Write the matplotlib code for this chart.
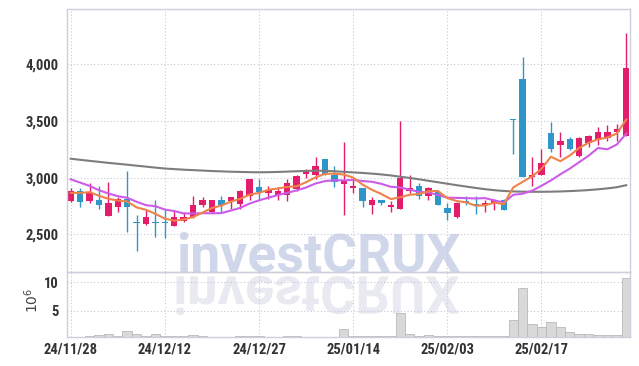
import numpy as np
import matplotlib
matplotlib.use('Agg')
import matplotlib.pyplot as plt
from matplotlib.textpath import TextPath
from matplotlib.patches import PathPatch
from matplotlib.font_manager import FontProperties
from matplotlib.transforms import Affine2D, IdentityTransform

# daily candles, 24/11/28 .. 25/02/28 (60 trading days)
opens = [2790, 2885, 2790, 2800, 2660, 2740, 2810, 2605, 2590, 2605,
         2605, 2570, 2620, 2655, 2755, 2700, 2800, 2790, 2770, 2840,
         2920, 2860, 2845, 2845, 2900, 3030, 3020, 3160, 3020, 2945,
         2905, 2910, 2755, 2805, 2745, 2725, 2885, 2925, 2840, 2875,
         2730, 2650, 2790, 2765, 2755, 2780, 2800, 3520, 3870, 3005,
         3020, 3395, 3285, 3340, 3195, 3305, 3335, 3350, 3405, 3365]
highs = [2905, 2910, 2955, 2930, 2960, 2830, 3060, 2670, 2720, 2800,
         2720, 2710, 2700, 2840, 2825, 2800, 2840, 2825, 2895, 2990,
         2985, 2930, 2920, 2985, 3025, 3075, 3185, 3160, 3105, 3315,
         2975, 2910, 2825, 2805, 2790, 3500, 3020, 2955, 2920, 2880,
         2775, 2785, 2840, 2840, 2800, 2815, 2815, 3520, 4060, 3180,
         3250, 3495, 3405, 3360, 3360, 3375, 3445, 3465, 3475, 4280]
lows = [2785, 2740, 2780, 2720, 2660, 2700, 2520, 2350, 2580, 2480,
        2470, 2570, 2610, 2640, 2740, 2690, 2700, 2720, 2720, 2800,
        2800, 2810, 2800, 2790, 2880, 3000, 2990, 3020, 2920, 2670,
        2860, 2745, 2675, 2755, 2700, 2720, 2860, 2815, 2800, 2760,
        2625, 2645, 2755, 2675, 2695, 2715, 2710, 3210, 3005, 2930,
        3020, 3225, 3180, 3245, 3180, 3270, 3285, 3325, 3320, 3365]
closes = [2885, 2785, 2860, 2755, 2780, 2810, 2740, 2600, 2650, 2600,
          2600, 2650, 2650, 2760, 2800, 2800, 2755, 2825, 2885, 2985,
          2875, 2895, 2880, 2955, 3010, 3060, 3105, 3035, 2965, 2970,
          2925, 2795, 2805, 2780, 2752, 3000, 2910, 2835, 2905, 2760,
          2685, 2780, 2780, 2757, 2780, 2800, 2715, 3512, 3005, 3020,
          3130, 3250, 3320, 3255, 3350, 3365, 3400, 3400, 3430, 3965]
# volume in millions
volumes = [0.3, 0.4, 0.45, 0.65, 0.95, 0.55, 1.4, 0.95, 0.55, 0.95,
           0.6, 0.55, 0.45, 0.75, 0.55, 0.4, 0.4, 0.4, 0.6, 0.6,
           0.6, 0.4, 0.4, 0.6, 0.6, 0.4, 0.4, 0.4, 0.4, 1.8,
           0.55, 0.55, 0.55, 0.5, 0.5, 4.6, 0.95, 0.6, 0.7, 0.55,
           0.55, 0.55, 0.5, 0.5, 0.5, 0.5, 0.55, 3.4, 9.0, 2.7,
           2.1, 3.0, 2.1, 1.2, 0.95, 0.8, 0.75, 0.75, 0.75, 10.75]
# moving averages
ma5 = [2865, 2865, 2872, 2840, 2813, 2798, 2789, 2737, 2716, 2680,
       2638, 2620, 2630, 2652, 2692, 2732, 2753, 2788, 2813, 2850,
       2865, 2893, 2904, 2918, 2923, 2960, 3002, 3033, 3035, 3027,
       3000, 2938, 2892, 2855, 2811, 2826, 2849, 2855, 2880, 2882,
       2819, 2793, 2782, 2752, 2756, 2779, 2766, 2913, 2963, 3011,
       3077, 3184, 3145, 3195, 3261, 3308, 3338, 3354, 3389, 3512]
ma10 = [2985, 2956, 2927, 2889, 2860, 2836, 2822, 2787, 2757, 2747,
        2718, 2705, 2684, 2684, 2686, 2685, 2687, 2709, 2733, 2771,
        2799, 2823, 2846, 2866, 2887, 2913, 2948, 2969, 2977, 2975,
        2980, 2970, 2963, 2945, 2919, 2913, 2894, 2874, 2868, 2847,
        2823, 2821, 2819, 2816, 2819, 2799, 2780, 2848, 2858, 2884,
        2928, 2975, 3029, 3079, 3136, 3193, 3261, 3250, 3292, 3387]
ma_long = [3167, 3157, 3148, 3139, 3130, 3122, 3114, 3105, 3097, 3088,
           3080, 3075, 3070, 3066, 3062, 3058, 3055, 3052, 3050, 3048,
           3047, 3048, 3050, 3053, 3056, 3059, 3061, 3060, 3056, 3051,
           3046, 3041, 3035, 3028, 3019, 3008, 2997, 2985, 2972, 2959,
           2946, 2933, 2921, 2909, 2898, 2889, 2882, 2878, 2876, 2875,
           2875, 2876, 2878, 2881, 2885, 2890, 2897, 2905, 2915, 2933]

tick_idx = [0, 10, 20, 30, 40, 50]
tick_labels = ['24/11/28', '24/12/12', '24/12/27', '25/01/14', '25/02/03', '25/02/17']
price_ticks = [2500, 3000, 3500, 4000]
vol_ticks = [5, 10]

up_col = '#e31c6b'
down_col = '#2e96c8'
grid_col = '#c3c9de'
frame_col = '#cdd0dc'
tick_font = FontProperties(family=['Roboto Condensed', 'Roboto'], weight='bold', size=10.5)

x = np.arange(len(closes))
o = np.array(opens)
c = np.array(closes)
colors = [up_col if cc >= oo else down_col for oo, cc in zip(o, c)]

fig = plt.figure(figsize=(6.39, 3.66), dpi=100)
fig.patch.set_facecolor('white')
ax = fig.add_axes([0.1044, 0.2577, 0.8815, 0.7169])
axv = fig.add_axes([0.1044, 0.0784, 0.8815, 0.1792], sharex=ax)
for a in (ax, axv):
    a.set_facecolor('none')
    for s in a.spines.values():
        s.set_color(frame_col)
        s.set_linewidth(1.0)
    a.grid(True, linestyle=(0, (1, 2)), color=grid_col, linewidth=0.8)
    a.set_axisbelow(True)
    a.tick_params(length=0, pad=6, colors='#333333')

# candles
ax.vlines(x, lows, highs, colors=colors, linewidth=1.0, zorder=2)
body_low = np.minimum(o, c)
body_h = np.maximum(np.abs(c - o), 9)
ax.bar(x, body_h, bottom=body_low, width=0.68, color=colors, linewidth=0, zorder=2)

ax.plot(x, ma_long, color='#7d7d7d', linewidth=1.5, zorder=3)
ax.plot(x, ma10, color='#cc5ce8', linewidth=1.5, zorder=3)
ax.plot(x, ma5, color='#ef8248', linewidth=1.5, zorder=3)

ax.set_xlim(-0.425, 59.4)
ax.set_ylim(2170, 4485)
ax.set_yticks(price_ticks)
ax.set_yticklabels([f'{v:,}' for v in price_ticks], fontproperties=tick_font)
plt.setp(ax.get_xticklabels(), visible=False)

# volume
axv.bar(x, volumes, width=1.0, color='#d9d9d9', edgecolor='#b9b9b9', linewidth=0.6, zorder=2)
axv.set_ylim(0.3, 11.85)
axv.set_yticks(vol_ticks)
axv.set_yticklabels([str(v) for v in vol_ticks], fontproperties=tick_font)
axv.set_xticks(tick_idx)
axv.set_xticklabels(tick_labels, fontproperties=tick_font)
axv.tick_params(axis='x', pad=4)
fig.text(0.05, 0.18, r'$10^6$', rotation=90, fontsize=10, color='#444444',
         ha='center', va='center')

# watermark, plus its mirror image underneath
fig.text(176 / 639, 1 - 271.5 / 366, 'investCRUX', fontsize=38.5, weight='bold',
         family='Roboto', color='#d1d7ea', ha='left', va='baseline', zorder=-1)
tp = TextPath((0, 0), 'investCRUX', size=100, prop=FontProperties(family='Roboto', weight='bold'))
bb = tp.get_extents()
sx = 283 / bb.width
sy = 38.5 / bb.y1
t_refl = Affine2D().translate(-bb.x0, 0).scale(sx, -sy).translate(176, 366 - 276.5)
wr = PathPatch(tp, facecolor='#e8e9f1', edgecolor='none', transform=t_refl + IdentityTransform(), zorder=-1)
fig.add_artist(wr)

fig.savefig('out.png', dpi=100, facecolor='white')
